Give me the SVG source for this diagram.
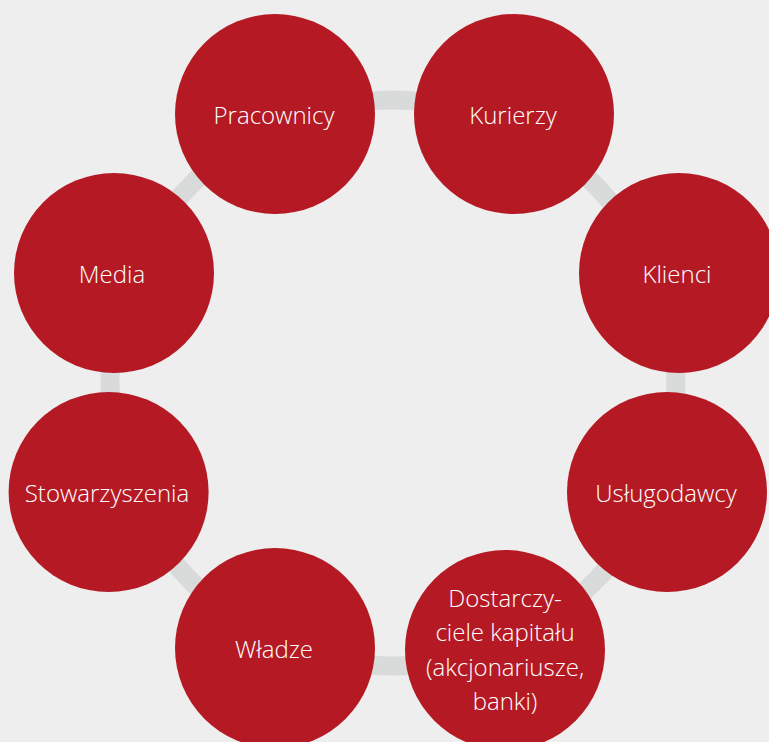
<svg xmlns="http://www.w3.org/2000/svg" width="769" height="742" viewBox="0 0 769 742">
<style>
.node{fill:#b51a24}
.lbl{fill:#ffffff;font-family:"Open Sans","Noto Sans",sans-serif;font-size:24px;font-weight:300;text-anchor:middle}
.ring{fill:none;stroke:#d9dbda;stroke-width:19}
</style>
<rect width="769" height="742" fill="#eeeeee"/>
<g id="connectors">
<path class="ring" d="M279.3,123.9 A283,283 0 0 1 509,124.9"/>
<path class="ring" d="M509,124.9 A283,283 0 0 1 657.2,281.6"/>
<path class="ring" d="M657.2,281.6 A283,283 0 0 1 655.9,487.6"/>
<path class="ring" d="M655.9,487.6 A283,283 0 0 1 502.7,643.9"/>
<path class="ring" d="M502.7,643.9 A283,283 0 0 1 277.9,641.5"/>
<path class="ring" d="M277.9,641.5 A283,283 0 0 1 128.8,484.4"/>
<path class="ring" d="M128.8,484.4 A283,283 0 0 1 129.7,279.3"/>
<path class="ring" d="M129.7,279.3 A283,283 0 0 1 279.3,123.9"/>
</g>
<g id="pracownicy"><circle class="node" cx="275" cy="114" r="100"/><text class="lbl" x="274" y="124">Pracownicy</text></g>
<g id="kurierzy"><circle class="node" cx="514" cy="114" r="100"/><text class="lbl" x="513" y="124">Kurierzy</text></g>
<g id="klienci"><circle class="node" cx="679" cy="273" r="100"/><text class="lbl" x="677" y="283">Klienci</text></g>
<g id="uslugodawcy"><circle class="node" cx="667" cy="492" r="100"/><text class="lbl" x="666" y="502">Usługodawcy</text></g>
<g id="dostarczyciele"><circle class="node" cx="505" cy="650" r="100"/><text class="lbl" x="505" y="607">Dostarczy-</text><text class="lbl" x="505" y="641">ciele kapitału</text><text class="lbl" x="505" y="676">(akcjonariusze,</text><text class="lbl" x="505" y="710">banki)</text></g>
<g id="wladze"><circle class="node" cx="275" cy="648" r="100"/><text class="lbl" x="274" y="658">Władze</text></g>
<g id="stowarzyszenia"><circle class="node" cx="108.6" cy="492" r="100"/><text class="lbl" x="107" y="502">Stowarzyszenia</text></g>
<g id="media"><circle class="node" cx="114" cy="273" r="100"/><text class="lbl" x="112" y="283">Media</text></g>
</svg>
